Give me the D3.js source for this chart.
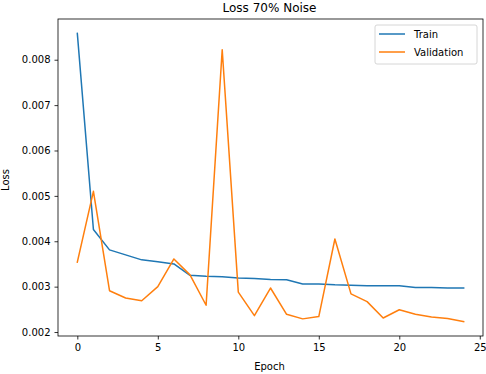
<!DOCTYPE html>
<html lang="en">
<head>
<meta charset="UTF-8">
<title>Loss 70% Noise</title>
<script src="https://d3js.org/d3.v7.min.js"></script>
<style>
    body { margin: 0; background: white; }
    svg { font-family: "DejaVu Sans", sans-serif; }
</style>
</head>
<body>
<div id="chart"></div>
<script>
    // epochs and loss values
    const epochs = d3.range(0, 25);
    const trainLoss = [0.00858, 0.00426, 0.00381, 0.00370, 0.00359, 0.00355, 0.00350, 0.00325,
        0.00323, 0.00322, 0.00319, 0.00318, 0.00316, 0.00315, 0.00306, 0.00306, 0.00304,
        0.00303, 0.00302, 0.00302, 0.00302, 0.00298, 0.00298, 0.00297, 0.00297];
    const valLoss = [0.00354, 0.00510, 0.00291, 0.00275, 0.00269, 0.00300, 0.00361, 0.00326,
        0.00259, 0.00822, 0.00288, 0.00236, 0.00297, 0.00239, 0.00229, 0.00234, 0.00405,
        0.00284, 0.00267, 0.00231, 0.00249, 0.00239, 0.00233, 0.00230, 0.00223];
    const xTicks = [0, 5, 10, 15, 20, 25];
    const yTicks = [0.002, 0.003, 0.004, 0.005, 0.006, 0.007, 0.008];
    const seriesNames = ["Train", "Validation"];
    const seriesColors = ["#1f77b4", "#ff7f0e"];

    const width = 486, height = 374;
    const margin = { top: 19, right: 3, bottom: 38, left: 58 };

    const svg = d3.select("#chart").append("svg")
        .attr("width", width)
        .attr("height", height);

    // matplotlib style 5% padding on the data range
    const xPad = (d3.max(epochs) - d3.min(epochs)) * 0.05;
    const allY = trainLoss.concat(valLoss);
    const yMin = d3.min(allY), yMax = d3.max(allY);
    const yPad = (yMax - yMin) * 0.05;

    const x = d3.scaleLinear()
        .domain([d3.min(epochs) - xPad, d3.max(epochs) + xPad])
        .range([margin.left, width - margin.right]);
    const y = d3.scaleLinear()
        .domain([yMin - yPad, yMax + yPad])
        .range([height - margin.bottom, margin.top]);

    // axes
    const xAxis = svg.append("g")
        .attr("transform", `translate(0,${height - margin.bottom})`)
        .call(d3.axisBottom(x).tickValues(xTicks).tickFormat(d3.format("d")).tickSizeOuter(0).tickSize(3.5).tickPadding(4));
    const yAxis = svg.append("g")
        .attr("transform", `translate(${margin.left},0)`)
        .call(d3.axisLeft(y).tickValues(yTicks).tickFormat(d3.format(".3f")).tickSizeOuter(0).tickSize(3.5).tickPadding(4));
    [xAxis, yAxis].forEach(g => {
        g.select(".domain").remove();
        g.selectAll("text").attr("font-size", 10).attr("fill", "#000")
            .attr("font-family", "DejaVu Sans, sans-serif");
        g.selectAll("line").attr("stroke", "#000").attr("stroke-width", 0.8);
    });

    // frame
    svg.append("rect")
        .attr("x", margin.left)
        .attr("y", margin.top)
        .attr("width", width - margin.left - margin.right)
        .attr("height", height - margin.top - margin.bottom)
        .attr("fill", "none")
        .attr("stroke", "#000")
        .attr("stroke-width", 0.8);

    // lines
    const line = d3.line()
        .x((d, i) => x(epochs[i]))
        .y(d => y(d));
    [trainLoss, valLoss].forEach((s, k) => {
        svg.append("path")
            .datum(s)
            .attr("d", line)
            .attr("fill", "none")
            .attr("stroke", seriesColors[k])
            .attr("stroke-width", 1.5)
            .attr("stroke-linejoin", "round")
            .attr("stroke-linecap", "square");
    });

    // titles
    svg.append("text")
        .attr("x", (margin.left + width - margin.right) / 2 - 1)
        .attr("y", 12)
        .attr("text-anchor", "middle")
        .attr("font-size", 12)
        .text("Loss 70% Noise");
    svg.append("text")
        .attr("x", (margin.left + width - margin.right) / 2 - 1)
        .attr("y", 370)
        .attr("text-anchor", "middle")
        .attr("font-size", 10)
        .text("Epoch");
    svg.append("text")
        .attr("transform", `translate(9,180) rotate(-90)`)
        .attr("text-anchor", "middle")
        .attr("font-size", 10)
        .text("Loss");

    // legend
    const legend = svg.append("g").attr("transform", "translate(375,25)");
    legend.append("rect")
        .attr("width", 102)
        .attr("height", 39)
        .attr("rx", 2)
        .attr("fill", "white")
        .attr("stroke", "#ccc")
        .attr("stroke-width", 0.8);
    seriesNames.forEach((name, i) => {
        const gy = 9 + i * 18;
        legend.append("line")
            .attr("x1", 4).attr("x2", 30)
            .attr("y1", gy).attr("y2", gy)
            .attr("stroke", seriesColors[i])
            .attr("stroke-width", 1.5);
        legend.append("text")
            .attr("x", 39)
            .attr("y", gy + 3.5)
            .attr("font-size", 10)
            .text(name);
    });
</script>
</body>
</html>
